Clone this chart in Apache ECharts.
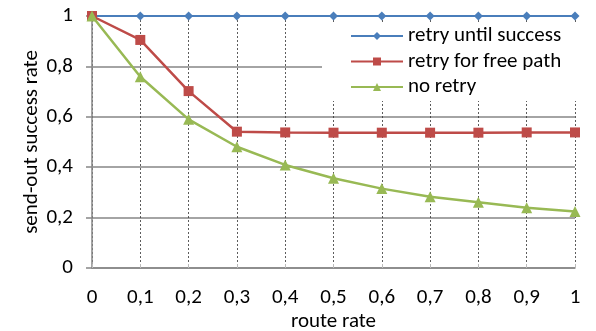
<!DOCTYPE html>
<html>
<head>
<meta charset="utf-8">
<script src="https://cdn.jsdelivr.net/npm/echarts@6/dist/echarts.min.js"></script>
<style>
  html, body { margin: 0; padding: 0; background: #fff; }
  #chart { width: 596px; height: 331px; }
</style>
</head>
<body>
<div id="chart"></div>
<script>
// route rate on the x axis
const routeRates = [0, 0.1, 0.2, 0.3, 0.4, 0.5, 0.6, 0.7, 0.8, 0.9, 1];

// send-out success rate per strategy
const retryUntilSuccess = [1, 1, 1, 1, 1, 1, 1, 1, 1, 1, 1];
const retryForFreePath = [1, 0.905, 0.702, 0.541, 0.538, 0.537, 0.537, 0.537, 0.537, 0.538, 0.538];
const noRetry = [1, 0.759, 0.590, 0.481, 0.409, 0.356, 0.315, 0.283, 0.261, 0.239, 0.224];

const seriesNames = ['retry until success', 'retry for free path', 'no retry'];
const fontFamily = 'Carlito, "Open Sans", "Liberation Sans", sans-serif';
const fontSize = 21;

const pairs = vals => routeRates.map((x, i) => [x, vals[i]]);
const commaFmt = v => String(Math.round(v * 10) / 10).replace('.', ',');

const chart = echarts.init(document.getElementById('chart'));
chart.setOption({
  animation: false,
  backgroundColor: '#fff',
  grid: { left: 92, right: 21, top: 16, bottom: 63, containLabel: false, outerBoundsMode: 'none' },
  legend: {
    left: 322, top: 22,
    orient: 'vertical',
    backgroundColor: '#fff',
    padding: [3.5, 20, 3.5, 28],
    itemGap: 4.5,
    itemWidth: 52, itemHeight: 10,
    textStyle: { fontFamily, fontSize, color: '#000' },
    data: seriesNames
  },
  xAxis: {
    type: 'value', min: 0, max: 1, interval: 0.1,
    name: 'route rate', nameLocation: 'middle', nameGap: 43, nameMoveOverlap: false,
    nameTextStyle: { fontFamily, fontSize, color: '#000' },
    axisLine: { lineStyle: { color: '#868686', width: 1.5 } },
    axisTick: { show: true, inside: true, length: 4, lineStyle: { color: '#bbb' } },
    axisLabel: { fontFamily, fontSize, color: '#000', margin: 19, formatter: commaFmt },
    splitLine: { show: true, lineStyle: { color: '#333', width: 0.8, type: [2, 2] } }
  },
  yAxis: {
    type: 'value', min: 0, max: 1, interval: 0.2,
    name: 'send-out success rate', nameLocation: 'middle', nameGap: 50, nameMoveOverlap: false,
    nameTextStyle: { fontFamily, fontSize, color: '#000' },
    axisLine: { show: true, lineStyle: { color: '#868686', width: 1.5 } },
    axisTick: { show: true, length: 6, lineStyle: { color: '#868686', width: 1.5 } },
    axisLabel: { fontFamily, fontSize, color: '#000', margin: 19, formatter: commaFmt },
    splitLine: { show: true, lineStyle: { color: '#868686', width: 1.5 } }
  },
  series: [
    {
      name: seriesNames[0], type: 'line', data: pairs(retryUntilSuccess),
      symbol: 'diamond', symbolSize: 9,
      itemStyle: { color: '#4A7EBB' }, lineStyle: { color: '#4A7EBB', width: 2.2 }, z: 3
    },
    {
      name: seriesNames[1], type: 'line', data: pairs(retryForFreePath),
      symbol: 'rect', symbolSize: 10,
      itemStyle: { color: '#BE4B48' }, lineStyle: { color: '#BE4B48', width: 2.5 }, z: 4
    },
    {
      name: seriesNames[2], type: 'line', data: pairs(noRetry),
      symbol: 'triangle', symbolSize: 11,
      itemStyle: { color: '#98B954' }, lineStyle: { color: '#98B954', width: 2.5 }, z: 5
    }
  ]
});
</script>
</body>
</html>
